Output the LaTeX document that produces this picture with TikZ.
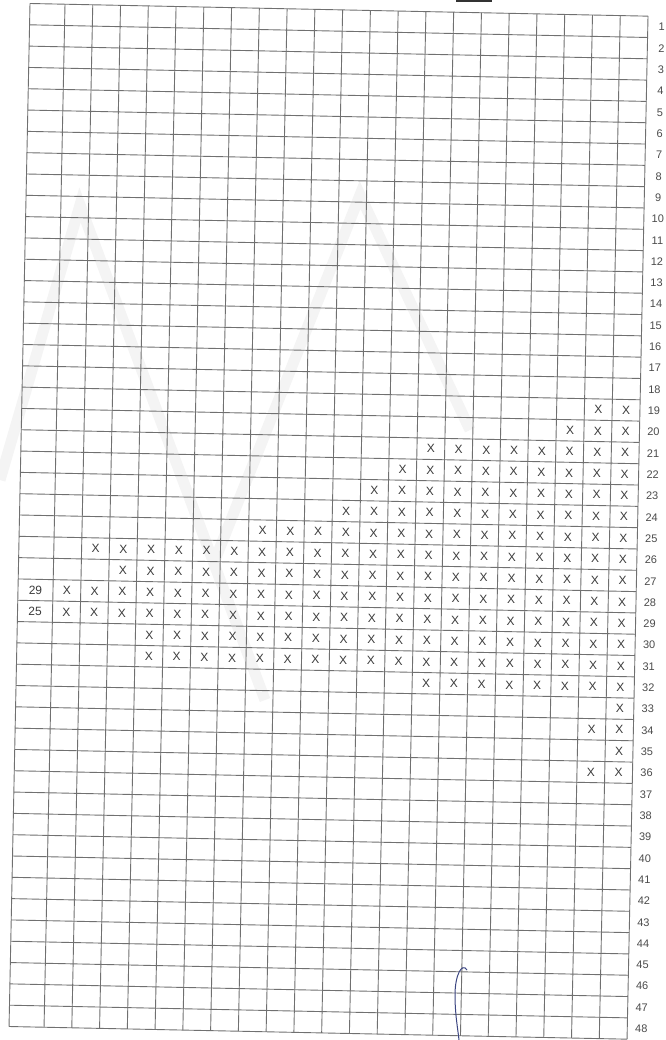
\documentclass[tikz,border=0pt]{standalone}
\usepackage{fontspec}
\setmainfont{Liberation Sans}
\definecolor{gridgray}{RGB}{112,112,112}
\definecolor{markgray}{RGB}{60,60,60}
\definecolor{labelgray}{RGB}{75,75,75}
\definecolor{wmgray}{RGB}{244,244,244}
\definecolor{penblue}{RGB}{60,70,130}
\begin{document}
\begin{tikzpicture}[x=1pt,y=1pt,
  gridline/.style={draw=gridgray, line width=0.9pt},
  xmark/.style={text=markgray, font=\fontsize{12}{12}\selectfont, inner sep=0pt},
  rowlabel/.style={text=labelgray, font=\fontsize{11}{11}\selectfont, inner sep=0pt},
  watermark/.style={draw=wmgray, line width=11pt, line join=miter},
]
\useasboundingbox (0,0) rectangle (665,-1040);
\fill[white] (0,0) rectangle (665,-1040);
% faint watermark
\draw[watermark] (0,-480) -- (80,-205) -- (265,-700);
\draw[watermark] (215,-560) -- (360,-195) -- (470,-430);
% grid
\def\cw{27.762}
\def\rh{21.3125}
\begin{scope}[shift={(30,-3.5)}, cm={1,-0.0205,0.0205,1,(0,0)}]
  \draw[gridline] (0,0) -- (0,-1023);
  \foreach \k in {1,...,22}{
    \draw[gridline] ({35+(\k-1)*\cw},0) -- ({35+(\k-1)*\cw},-1023);
  }
  \foreach \r in {0,...,48}{
    \draw[gridline] (0,{-\r*\rh}) -- (618,{-\r*\rh});
  }
  \foreach \r in {1,...,48}{
    \node[rowlabel] (lab\r) at (632,{-(\r-0.5)*\rh}) {\r};
  }
  \node[xmark] (left29) at (17.5,{-27.5*\rh}) {29};
  \node[xmark] (left25) at (17.5,{-28.5*\rh}) {25};
  \foreach \r/\s/\e in {19/21/22, 20/20/22, 21/15/22, 22/14/22, 23/13/22,
      24/12/22, 25/9/22, 26/3/22, 27/4/22, 28/2/22, 29/2/22, 30/5/22,
      31/5/22, 32/15/22, 33/22/22, 34/21/22, 35/22/22, 36/21/22}{
    \foreach \c in {\s,...,\e}{
      \node[xmark] (x-\r-\c) at ({35+(\c-1.5)*\cw},{-(\r-0.5)*\rh}) {X};
    }
  }
\end{scope}
% pen marks
\draw[black!80, line width=1.5pt] (456,-0.8) -- (492,-0.8);
\draw[penblue, line width=1pt] (467,-970) .. controls (462,-962) and (455,-975) .. (455,-995)
  .. controls (455,-1015) and (458,-1030) .. (459,-1040);
\end{tikzpicture}
\end{document}
